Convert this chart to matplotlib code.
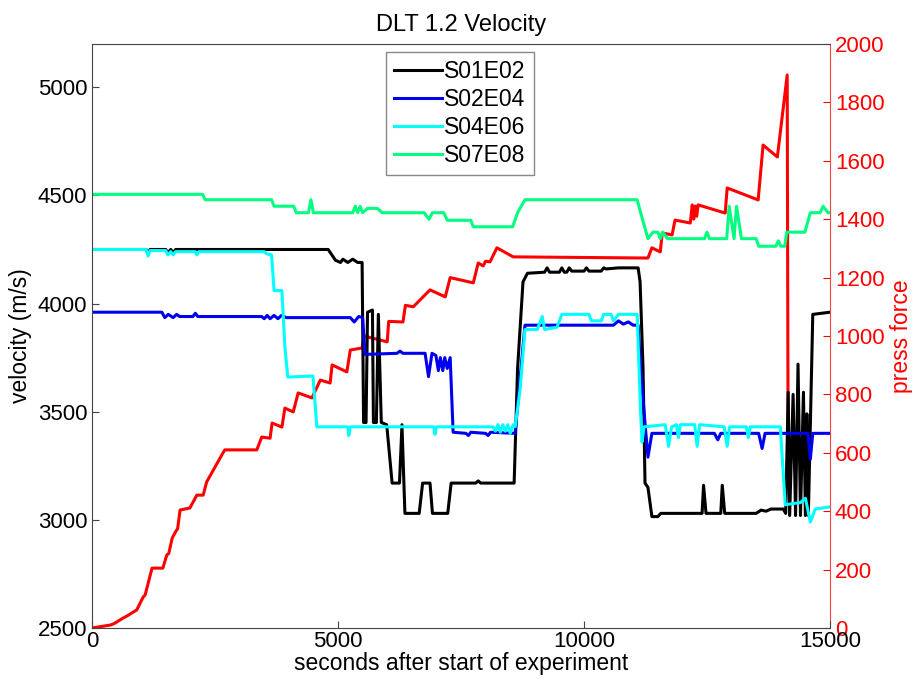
import numpy as np
import matplotlib.pyplot as plt

plt.rcParams['font.family'] = ['Liberation Sans', 'DejaVu Sans']

# velocity traces (time in s, velocity in m/s)
t_s01 = [0, 1100, 1140, 1180, 1500, 1540, 1600, 1650, 1700, 4800, 4950, 5050, 5100, 5200, 5300,
         5400, 5490, 5520, 5570, 5600, 5700, 5720, 5780, 5820, 5880, 5990, 6100, 6250, 6300,
         6360, 6650, 6720, 6870, 6920, 7230, 7300, 7800, 7850, 7900, 8580, 8650, 8760, 8850,
         9200, 9250, 9300, 9500, 9550, 9600, 9650, 9700, 9750, 10000, 10050, 10100, 10350,
         10400, 10450, 10700, 11100, 11140, 11200, 11240, 11300, 11380, 11500, 11560, 12400,
         12430, 12480, 12780, 12810, 12860, 13500, 13600, 13700, 13800, 14050, 14100, 14150,
         14180, 14250, 14300, 14350, 14400, 14460, 14500, 14530, 14560, 14650, 15000]
v_s01 = [4250, 4250, 4230, 4250, 4250, 4235, 4250, 4235, 4250, 4250, 4200, 4190, 4205, 4190, 4205,
         4190, 4190, 3450, 3450, 3960, 3970, 3450, 3450, 3950, 3450, 3440, 3170, 3170, 3440,
         3030, 3030, 3170, 3170, 3030, 3030, 3170, 3170, 3180, 3170, 3170, 3700, 4100, 4140,
         4145, 4165, 4145, 4145, 4165, 4145, 4145, 4165, 4150, 4150, 4165, 4150, 4150,
         4165, 4160, 4165, 4165, 4100, 3700, 3170, 3150, 3015, 3015, 3030, 3030,
         3160, 3030, 3030, 3160, 3030, 3030, 3045, 3040, 3050, 3050, 3030, 3590,
         3020, 3580, 3020, 3720, 3020, 3590, 3020, 3490, 3020, 3950, 3960]

t_s02 = [0, 1420, 1480, 1550, 1650, 1720, 1780, 2050, 2100, 2150, 3450, 3500, 3560, 3620, 3700,
         3780, 3850, 3950, 5250, 5330, 5420, 5500, 5550, 6200, 6260, 6320, 6770, 6840, 6910,
         6990, 7040, 7080, 7130, 7170, 7220, 7280, 7340, 7600, 7650, 7700, 8000, 8050, 8100,
         8600, 8700, 8800, 10600, 10700, 10800, 10900, 11000, 11100, 11150, 11250, 11300,
         11380, 12650, 12720, 12780, 13550, 13620, 13680, 14550, 14600, 14650, 15000]
v_s02 = [3960, 3960, 3935, 3950, 3935, 3950, 3940, 3940, 3955, 3940, 3940, 3930, 3945, 3930, 3945,
         3930, 3945, 3935, 3935, 3915, 3940, 3935, 3765, 3770, 3780, 3770, 3770, 3662, 3770,
         3760, 3690, 3750, 3690, 3750, 3700, 3750, 3405, 3400, 3390, 3405, 3400, 3390, 3405,
         3400, 3650, 3900, 3900, 3920, 3905, 3915, 3900, 3900, 3700, 3420, 3290,
         3400, 3400, 3370, 3400, 3400, 3330, 3400, 3400, 3280, 3400, 3400]

t_s04 = [0, 1100, 1140, 1180, 1500, 1540, 1600, 1650, 1700, 2100, 2130, 2170, 3500, 3550, 3650,
         3700, 3860, 3920, 3980, 4490, 4570, 5200, 5220, 5250, 6950, 6970, 7000, 8150, 8200,
         8250, 8300, 8350, 8400, 8450, 8500, 8560, 8600, 8700, 8800, 9050, 9150, 9200, 9450,
         9550, 10100, 10150, 10350, 10400, 10550, 10600, 10700, 11080, 11150, 11180, 11220,
         11650, 11720, 11780, 11880, 11920, 11960, 12250, 12300, 12350, 12850, 12910, 12960,
         13300, 13340, 13380, 13990, 14090, 14400, 14500, 14600, 14700, 15000]
v_s04 = [4250, 4250, 4220, 4245, 4245, 4225, 4240, 4225, 4240, 4240, 4225, 4240, 4240, 4230, 4225,
         4060, 4060, 3800, 3660, 3665, 3430, 3430, 3390, 3430, 3430, 3395, 3430, 3430, 3410,
         3440, 3405, 3440, 3410, 3440, 3400, 3440, 3430, 3600, 3880, 3880, 3940, 3880, 3890,
         3950, 3950, 3920, 3920, 3950, 3950, 3920, 3950, 3950, 3500, 3360, 3430,
         3440, 3340, 3430, 3440, 3380, 3440, 3440, 3340, 3440, 3430, 3340, 3430,
         3430, 3380, 3430, 3430, 3070, 3080, 3100, 2990, 3050, 3060]

t_s07 = [0, 2250, 2300, 3650, 3700, 4100, 4150, 4400, 4450, 4500, 5300, 5350, 5400, 5450, 5500,
         5600, 5800, 5900, 6750, 6850, 6920, 7150, 7220, 7700, 7750, 8550, 8650, 8800, 11080,
         11200, 11300, 11400, 11500, 11550, 11600, 11700, 12450, 12500, 12550, 12900, 12950,
         13050, 13100, 13200, 13500, 13550, 13900, 13950, 14000, 14080, 14120, 14490, 14600,
         14800, 14860, 14960, 15000]
v_s07 = [4505, 4505, 4480, 4480, 4450, 4450, 4420, 4420, 4480, 4420, 4420, 4450, 4420, 4450, 4420,
         4440, 4440, 4420, 4420, 4390, 4420, 4420, 4385, 4385, 4355, 4355, 4420, 4480, 4480,
         4380, 4300, 4330, 4330, 4300, 4330, 4300, 4300, 4330, 4300, 4300, 4450,
         4300, 4450, 4300, 4300, 4265, 4265, 4290, 4265, 4265, 4330, 4330, 4420,
         4420, 4450, 4420, 4420]

# press force (right axis), staircase loading
t_force = [0, 370, 450, 630, 700, 910, 1040, 1080, 1220, 1440, 1520, 1560, 1630, 1700, 1740, 1790,
           1990, 2130, 2260, 2330, 2500, 2660, 2700, 3350, 3450, 3620, 3660, 3860, 3920, 4090,
           4190, 4470, 4640, 4840, 4880, 5180, 5250, 5490, 5530, 6000, 6030, 6320, 6370, 6530,
           6870, 7180, 7280, 7750, 7850, 7950, 8000, 8090, 8230, 8560, 11300, 11380, 11550,
           11590, 11790, 11850, 12160, 12200, 12230, 12260, 12290, 12320, 12870, 12910, 13540,
           13640, 13930, 14130, 14150]
f_force = [0, 10, 15, 34, 40, 62, 106, 113, 205, 205, 250, 255, 308, 330, 340, 404,
           411, 455, 455, 500, 551, 599, 610, 610, 654, 650, 702, 688, 753, 740,
           805, 788, 849, 839, 901, 877, 952, 959, 1000, 980, 1050, 1048, 1105, 1100,
           1158, 1134, 1200, 1182, 1250, 1240, 1256, 1254, 1302, 1271, 1267, 1302, 1288,
           1353, 1346, 1397, 1387, 1449, 1400, 1445, 1410, 1449, 1421, 1507, 1466,
           1654, 1613, 1894, 507]

fig = plt.figure(figsize=(9.13, 6.84), dpi=100)
ax = fig.add_axes([92 / 913, 56 / 684, 738 / 913, 584 / 684])
ax2 = ax.twinx()

ax2.plot(t_force, f_force, color='#ff0000', lw=2.2)
ax2.set_ylim(0, 2000)
ax2.set_yticks(np.arange(0, 2001, 200))
ax2.set_ylabel('press force', color='#ff0000', fontsize=16.5, labelpad=4)
ax2.tick_params(axis='y', colors='#ff0000', direction='in', labelsize=16, length=5)
ax2.spines['right'].set_color('#ff4040')
for s in ['left', 'top', 'bottom']:
    ax2.spines[s].set_visible(False)

# velocity axes drawn above the force axes
ax.set_zorder(ax2.get_zorder() + 1)
ax.patch.set_visible(False)

ax.plot(t_s01, v_s01, color='k', lw=2.2, label='S01E02')
ax.plot(t_s02, v_s02, color='#0000ee', lw=2.2, label='S02E04')
ax.plot(t_s04, v_s04, color='#00ffff', lw=2.2, label='S04E06')
ax.plot(t_s07, v_s07, color='#00ff80', lw=2.2, label='S07E08')

ax.set_xlim(0, 15000)
ax.set_ylim(2500, 5200)
ax.set_xticks([0, 5000, 10000, 15000])
ax.set_yticks(np.arange(2500, 5001, 500))
ax.tick_params(direction='in', labelsize=16, length=5, colors='#444444', labelcolor='k')
ax.tick_params(axis='x', pad=2)
ax.spines['right'].set_visible(False)
for s in ['left', 'top', 'bottom']:
    ax.spines[s].set_color('#444444')

ax.set_xlabel('seconds after start of experiment', fontsize=16.5, labelpad=0)
ax.set_ylabel('velocity (m/s)', fontsize=16.5, labelpad=4)
ax.set_title('DLT 1.2 Velocity', fontsize=17, pad=9)

leg = ax.legend(loc='upper left', bbox_to_anchor=(0.398, 0.986), borderaxespad=0,
                fontsize=16.5, handlelength=2.1, handletextpad=0.1, labelspacing=0.22,
                fancybox=False, framealpha=1, edgecolor='#888888', borderpad=0.35)

fig.savefig('out.png', dpi=100)
